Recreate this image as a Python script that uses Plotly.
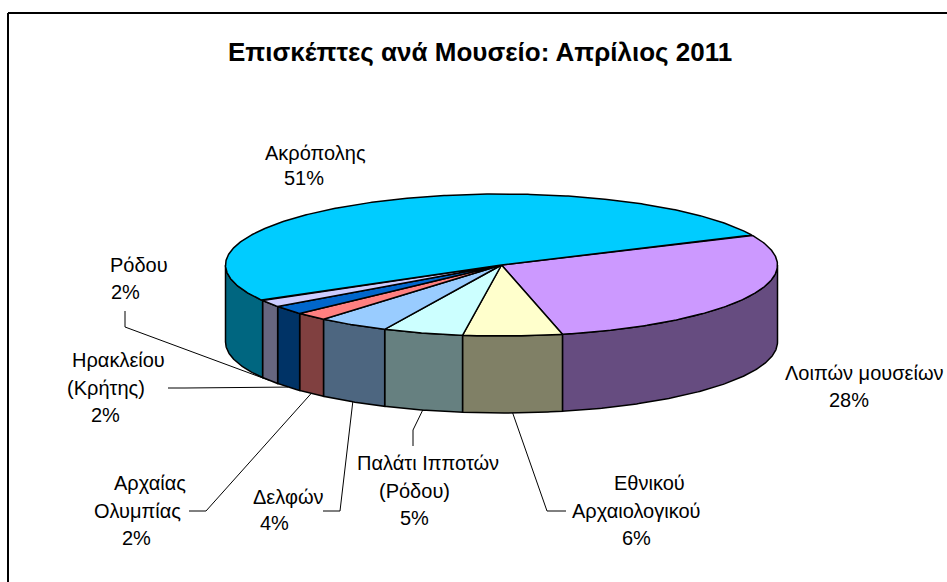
import math
import plotly.graph_objects as go

# --- data (clockwise from the Acropolis / others boundary, as drawn) ---
categories = ["Λοιπών μουσείων", "Εθνικού Αρχαιολογικού", "Παλάτι Ιπποτών (Ρόδου)",
              "Δελφών", "Αρχαίας Ολυμπίας", "Ηρακλείου (Κρήτης)", "Ρόδου", "Ακρόπολης"]
values = [28.4, 5.8, 4.7, 4.2, 1.9, 2.0, 1.6, 51.4]
top_colors = ["#CC99FF", "#FFFFCC", "#CCFFFF", "#99CCFF", "#FF8080", "#0066CC", "#CCCCFF", "#00CCFF"]
side_colors = ["#664C80", "#808066", "#668080", "#4D6680", "#804040", "#003366", "#666680", "#006680"]
title_text = "Επισκέπτες ανά Μουσείο: Απρίλιος 2011"

# --- style / geometry ---
W, H = 947, 582
CX, CY, RX, RY, DEPTH = 501.5, 265, 276, 71, 77
START_DEG = 25
LABEL_SIZE = 20
TITLE_SIZE = 26
FONT = "Liberation Sans, Arial, sans-serif"

# label lines: (text, centre x, centre y)
label_lines = [
    ("Ακρόπολης", 315, 153), ("51%", 304, 178),
    ("Ρόδου", 139, 265), ("2%", 125.5, 292),
    ("Ηρακλείου", 118, 360), ("(Κρήτης)", 105.5, 388), ("2%", 105, 415),
    ("Αρχαίας", 150, 483), ("Ολυμπίας", 137.5, 511), ("2%", 136.5, 538),
    ("Δελφών", 288, 497), ("4%", 274, 523),
    ("Παλάτι Ιπποτών", 428, 463), ("(Ρόδου)", 414, 491), ("5%", 414, 518),
    ("Εθνικού", 649, 483), ("Αρχαιολογικού", 636, 511), ("6%", 636, 538),
    ("Λοιπών μουσείων", 864, 373), ("28%", 849, 400),
]
# leader elbows (category index -> points before the slice anchor)
leader_elbows = {
    6: [(125, 311), (125, 327)],
    5: [(168, 388), (185, 388)],
    4: [(189, 511), (206, 511)],
    3: [(323, 511), (340, 511)],
    2: [(413, 446), (413, 430)],
    1: [(566, 511), (547, 511)],
}


def pt(deg, dz=0.0):
    a = math.radians(deg)
    return CX + RX * math.cos(a), CY - RY * math.sin(a) + dz


def arc(a0, a1, dz=0.0):
    n = max(2, int(abs(a1 - a0) * 2) + 1)
    pts = [pt(a0 + (a1 - a0) * i / (n - 1), dz) for i in range(n)]
    return [p[0] for p in pts], [p[1] for p in pts]


total = sum(values)
fig = go.Figure()
angles = []
a = START_DEG
for v in values:
    b = a - v / total * 360
    angles.append((a, b))
    a = b

# side walls: only the part of each slice on the front half of the ellipse
for (a0, a1), name, col in zip(angles, categories, side_colors):
    lo, hi = min(a0, a1), max(a0, a1)
    s, e = max(lo, -180), min(hi, 0)
    if e <= s:
        continue
    xt, yt = arc(e, s)
    xb, yb = arc(s, e, DEPTH)
    fig.add_trace(go.Scatter(x=xt + xb + [xt[0]], y=yt + yb + [yt[0]], mode="lines", fill="toself",
                             fillcolor=col, line=dict(color="black", width=1.5),
                             name=name, hoverinfo="name", showlegend=False))

# top faces
for (a0, a1), name, col, v in zip(angles, categories, top_colors, values):
    xa, ya = arc(a0, a1)
    fig.add_trace(go.Scatter(x=[CX] + xa + [CX], y=[CY] + ya + [CY], mode="lines", fill="toself",
                             fillcolor=col, line=dict(color="black", width=1.5),
                             name=f"{name}: {v}%", hoverinfo="name", showlegend=False))

# leader lines end on the lower rim at each slice's mid angle
for idx, elbows in leader_elbows.items():
    a0, a1 = angles[idx]
    end = pt((a0 + a1) / 2, DEPTH)
    pts = elbows + [end]
    fig.add_trace(go.Scatter(x=[p[0] for p in pts], y=[p[1] for p in pts], mode="lines",
                             line=dict(color="black", width=1), hoverinfo="skip", showlegend=False))

annotations = [dict(x=x, y=y, xref="x", yref="y", text=t, showarrow=False, xanchor="center",
                    yanchor="middle", font=dict(family=FONT, size=LABEL_SIZE, color="black"))
               for t, x, y in label_lines]
annotations.append(dict(x=480, y=52, xref="x", yref="y", text=f"<b>{title_text}</b>", showarrow=False,
                        xanchor="center", yanchor="middle",
                        font=dict(family=FONT, size=TITLE_SIZE, color="black")))

fig.update_layout(
    width=W, height=H, autosize=False, margin=dict(l=0, r=0, t=0, b=0),
    paper_bgcolor="white", plot_bgcolor="white", showlegend=False,
    xaxis=dict(range=[0, W], visible=False, fixedrange=True),
    yaxis=dict(range=[H, 0], visible=False, fixedrange=True),
    annotations=annotations,
    shapes=[dict(type="line", xref="x", yref="y", x0=8, y0=H, x1=8, y1=13,
                 line=dict(color="black", width=2), layer="below"),
            dict(type="line", xref="x", yref="y", x0=8, y0=13, x1=W, y1=13,
                 line=dict(color="black", width=2), layer="below")],
)
fig.write_html("out.html", config={"displayModeBar": False},
               post_script="document.body.style.margin='0';")
